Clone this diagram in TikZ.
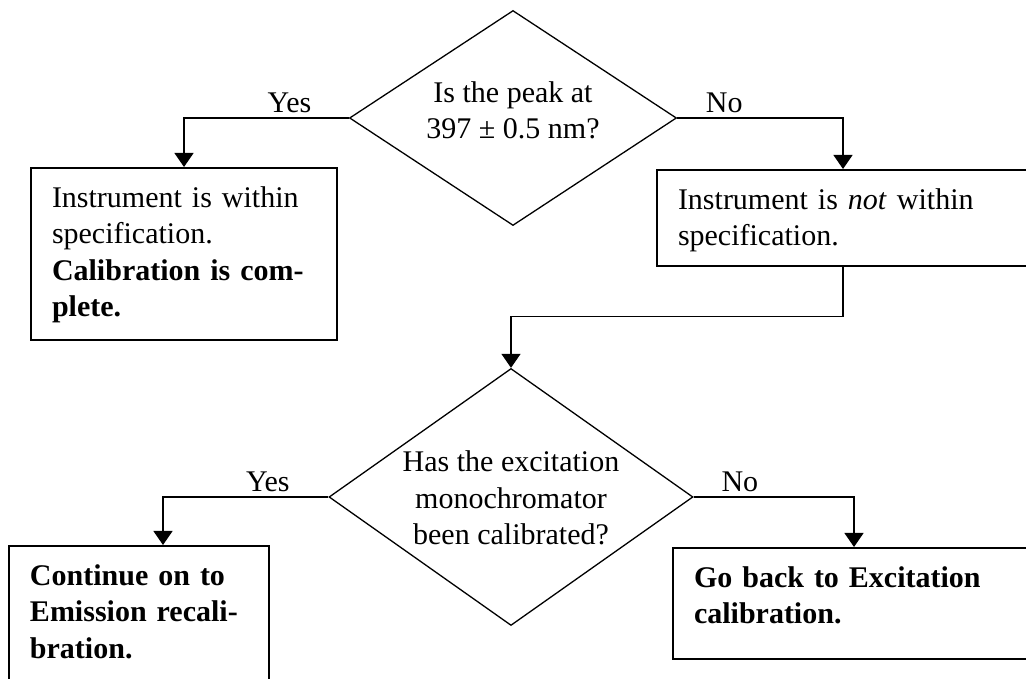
\documentclass[tikz,border=0pt]{standalone}
\usepackage{fontspec}
\setmainfont{Liberation Serif}
\usetikzlibrary{arrows.meta,shapes.geometric}

\begin{document}
\begin{tikzpicture}[x=1pt,y=1pt,>={Triangle[width=19pt,length=14pt]},
  every node/.style={font=\fontsize{30}{36.5}\selectfont},
  decision/.style={draw,diamond,line width=1.3pt,inner sep=0pt,align=center},
  stepbox/.style={draw,rectangle,line width=1.8pt,anchor=north,align=left,
    inner xsep=21pt,inner ysep=19pt,text height=20.5pt},
  flow/.style={->,line width=1.3pt},
  answer/.style={above,inner sep=5pt}]
\useasboundingbox (0,0) rectangle (1026,679);
\clip (0,0) rectangle (1026,679);
% first question
\node[decision,minimum width=327pt,minimum height=215pt,aspect=1.52,
  text height=57pt,text depth=15pt] (peak) at (513,561)
  {Is the peak at\\397 ± 0.5 nm?};
\node[stepbox,text width=264pt,text depth=113.5pt] (ok) at (184,512)
  {Instrument is within\\specification.\\\textbf{Calibration is com-}\\\textbf{plete.}};
\node[stepbox,text width=330pt,text depth=37.5pt] (notok) at (843,510)
  {Instrument is \textit{not} within\\specification.};
% second question
\node[decision,minimum width=364pt,minimum height=257pt,aspect=1.416,
  text height=96pt,text depth=-6pt] (excite) at (511,182)
  {Has the excitation\\monochromator\\been calibrated?};
\node[stepbox,text width=218pt,text depth=120pt] (cont) at (139,134)
  {\textbf{Continue on to}\\\textbf{Emission recali-}\\\textbf{bration.}};
\node[stepbox,text width=320pt,text depth=52.5pt] (goback) at (854,132)
  {\textbf{Go back to Excitation}\\\textbf{calibration.}};

\draw[flow] (peak.west) -| node[answer,pos=0.18] (yes1) {Yes} (ok.north);
\draw[flow] (peak.east) -| node[answer,pos=0.142] (no1) {No} (notok.north);
\draw[flow] (notok.south) -- ++(0,-50) -| (excite.north);
\draw[flow] (excite.west) -| node[answer,pos=0.183] (yes2) {Yes} ([xshift=24pt]cont.north);
\draw[flow] (excite.east) -| node[answer,pos=0.144] (no2) {No} (goback.north);
\end{tikzpicture}
\end{document}
